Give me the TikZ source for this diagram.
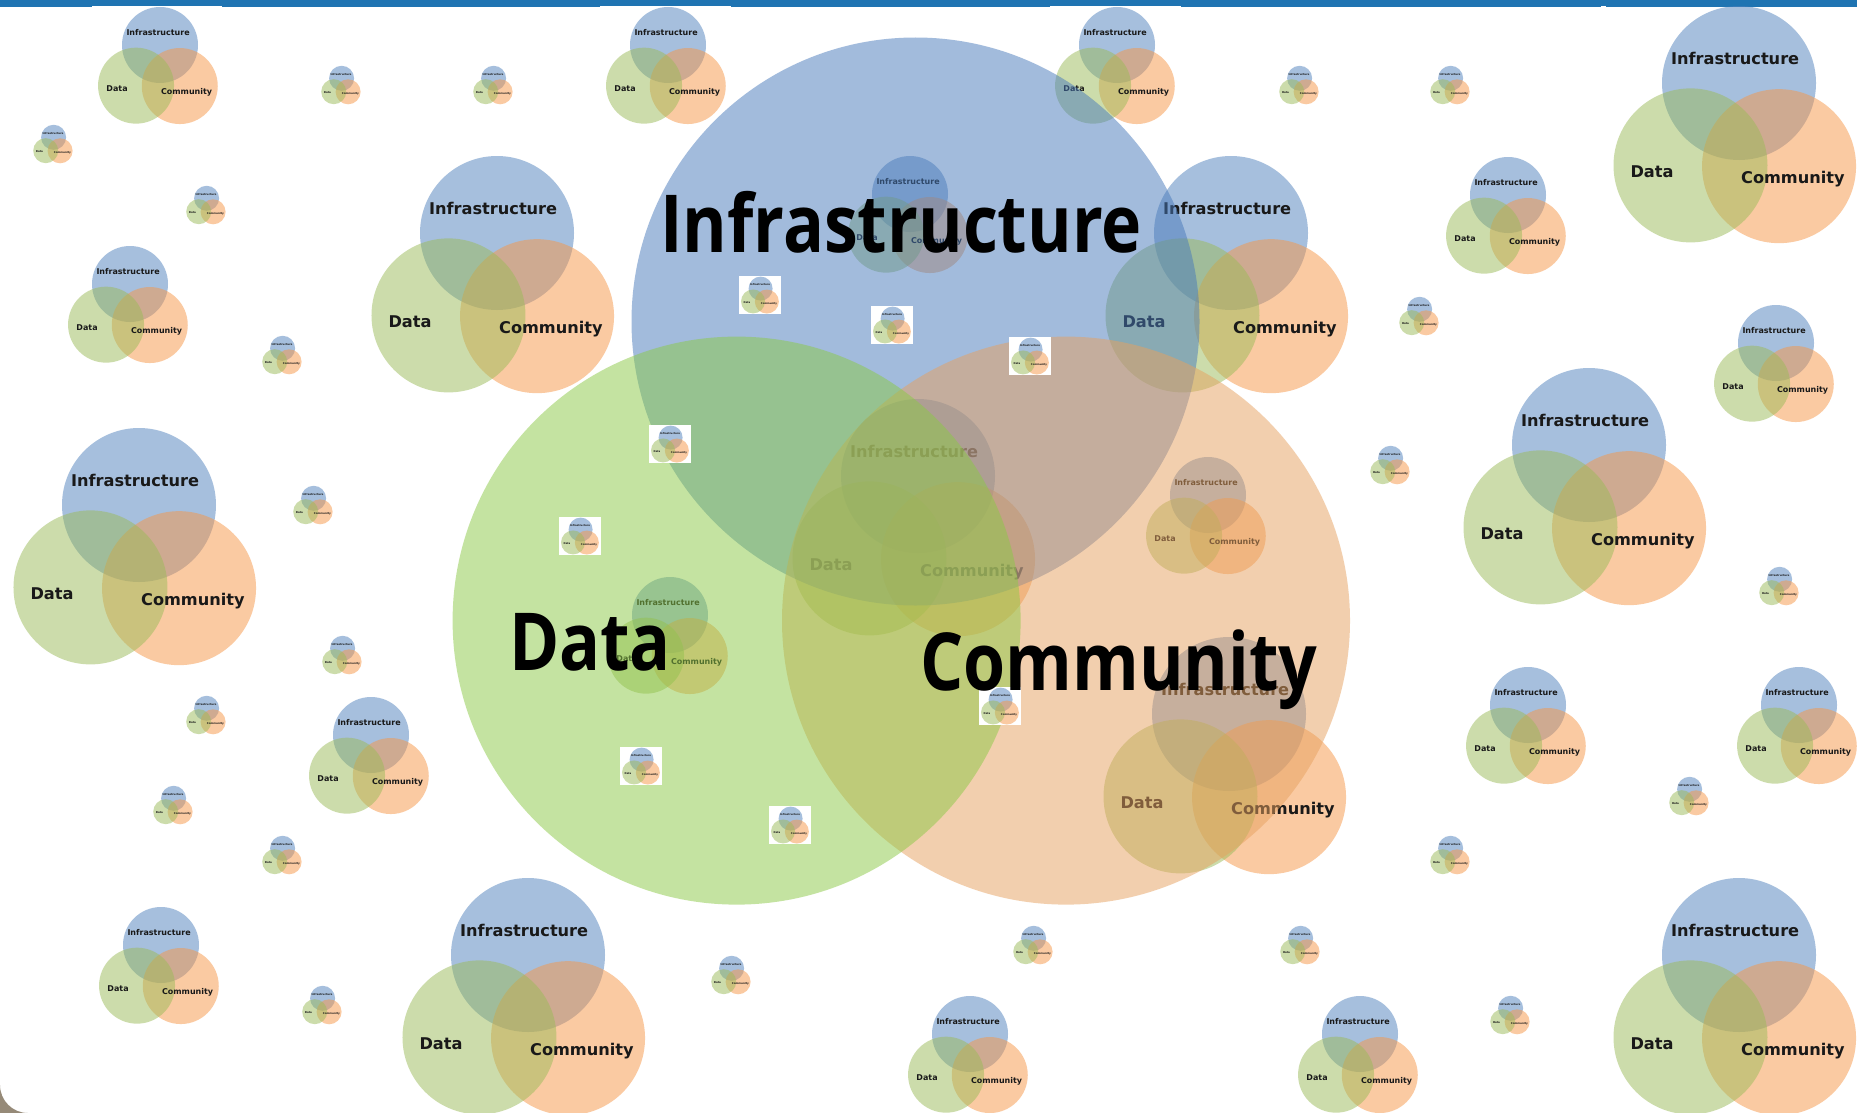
\documentclass[tikz,border=0pt]{standalone}
\usepackage{graphicx}
\usepackage{fontspec}
\setmainfont{DejaVu Sans}
\newfontfamily\bigfont{Open Sans}
\definecolor{sI}{RGB}{79,129,189}
\definecolor{sD}{RGB}{155,187,89}
\definecolor{sC}{RGB}{247,150,70}
\definecolor{bI}{RGB}{71,121,187}
\definecolor{bD}{RGB}{139,201,69}
\definecolor{bC}{RGB}{231,161,95}
\definecolor{topbar}{RGB}{31,116,178}
\definecolor{corner}{RGB}{150,138,120}
\tikzset{
  vI/.style={fill=sI, fill opacity=0.5},
  vD/.style={fill=sD, fill opacity=0.5},
  vC/.style={fill=sC, fill opacity=0.5},
  bigI/.style={fill=bI, fill opacity=0.5},
  bigD/.style={fill=bD, fill opacity=0.5},
  bigC/.style={fill=bC, fill opacity=0.5},
  vlab/.style={inner sep=0pt, anchor=base, text=black!90},
  biglab/.style={inner sep=0pt, anchor=base, text=black,
    font=\bigfont\bfseries\fontsize{80}{80}\selectfont},
  thumbbg/.style={fill=white},
}
% #1 name, #2 x of Infrastructure centre, #3 y, #4 radius
\newcommand\venn[4]{%
  \pgfmathsetmacro\vfs{0.21*#4}%
  \fill[vI] (#2,#3) circle[radius=#4];
  \fill[vC] ({#2+0.52*#4},{#3+1.08*#4}) circle[radius=#4];
  \fill[vD] ({#2-0.63*#4},{#3+1.07*#4}) circle[radius=#4];
  \node[vlab, font=\fontsize{\vfs}{\vfs}\selectfont\bfseries] (#1i) at ({#2-0.05*#4},{#3-0.24*#4}) {Infrastructure};
  \node[vlab, font=\fontsize{\vfs}{\vfs}\selectfont\bfseries] (#1d) at ({#2-1.13*#4},{#3+1.23*#4}) {Data};
  \node[vlab, font=\fontsize{\vfs}{\vfs}\selectfont\bfseries] (#1c) at ({#2+0.70*#4},{#3+1.30*#4}) {Community};
}
% tiny venn given by the centre of its group
\newcommand\tvenn[3]{\venn{#1}{#2+0.6}{#3-6.7}{12.5}}
% thumbnail with white square
\newcommand\thumb[3]{%
  \fill[thumbbg] ({#2-21},{#3-19}) rectangle ({#2+21},{#3+19});
  \venn{#1}{#2+0.6}{#3-6.4}{12}}
\begin{document}
\begin{tikzpicture}[x=1pt,y=-1pt]
\useasboundingbox (0,0) rectangle (1857,1113);
\begin{scope}
\clip (0,0) rectangle (1857,1113);
\fill[white] (0,0) rectangle (1857,1113);
% top bar
\fill[topbar] (0,0) rectangle (1857,7);
\fill[white] (92,5.7) rectangle (222,7.5);
\fill[white] (600,5.7) rectangle (731,7.5);
\fill[white] (1050,5.7) rectangle (1181,7.5);
\fill[white] (1601,5.7) rectangle (1606,7.5);
% rounded bottom-left corner
\fill[corner] (0,1085) -- (0,1113) -- (28,1113) .. controls (12.5,1113) and (0,1100.5) .. (0,1085);
% medium venns
\venn{m1}{160}{45}{38}
\venn{m2}{668}{45}{38}
\venn{m3}{1117}{45}{38}
\venn{m7}{130}{284}{38}
\venn{m8}{1508}{195}{38}
\venn{m9}{1776}{343}{38}
\venn{m13}{1208}{495}{38}
\venn{m14}{670}{615}{38}
\venn{m15}{910}{194}{38}
\venn{m17}{371}{735}{38}
\venn{m18}{1528}{705}{38}
\venn{m19}{1799}{705}{38}
\venn{m20}{161}{945}{38}
\venn{m22}{970}{1034}{38}
\venn{m23}{1360}{1034}{38}
% large venns
\venn{l4}{1739}{83}{77}
\venn{l5}{497}{233}{77}
\venn{l6}{1231}{233}{77}
\venn{l10}{139}{505}{77}
\venn{l11}{1589}{445}{77}
\venn{l12}{918}{476}{77}
\venn{l16}{1229}{714}{77}
\venn{l21}{528}{955}{77}
\venn{l24}{1739}{955}{77}
% tiny venns
\tvenn{ta}{341}{85}
\tvenn{tb}{493}{85}
\tvenn{tc}{53}{144}
\tvenn{td}{206}{205}
\tvenn{te}{282}{355}
\tvenn{tf}{313}{505}
\tvenn{tg}{342}{655}
\tvenn{th}{206}{715}
\tvenn{ti}{173}{805}
\tvenn{tj}{282}{855}
\tvenn{tk}{322}{1005}
\tvenn{tl}{731}{975}
\tvenn{tm}{1033}{945}
\tvenn{tn}{1299}{85}
\tvenn{to}{1450}{85}
\tvenn{tp}{1419}{316}
\tvenn{tq}{1390}{465}
\tvenn{tr}{1779}{586}
\tvenn{ts}{1689}{796}
\tvenn{tt}{1450}{855}
\tvenn{tu}{1300}{945}
\tvenn{tv}{1510}{1015}
% big venn
\fill[bigI] (915.5,321.5) circle[radius=284];
\fill[bigC] (1066,620.6) circle[radius=284];
\fill[bigD] (736.6,620.6) circle[radius=284];
% thumbnails
\thumb{p1}{760}{295}
\thumb{p2}{892}{325}
\thumb{p3}{1030}{356}
\thumb{p4}{670}{444}
\thumb{p5}{580}{536}
\thumb{p6}{641}{766}
\thumb{p7}{790}{825}
\thumb{p8}{1000}{706}
% big labels
\node[biglab] (BI) at (901,252) {\scalebox{0.85}[1]{Infrastructure}};
\node[biglab] (BD) at (590,670) {\scalebox{0.85}[1]{Data}};
\node[biglab] (BC) at (1119,690) {\scalebox{0.85}[1]{Community}};
\end{scope}
\end{tikzpicture}
\end{document}
